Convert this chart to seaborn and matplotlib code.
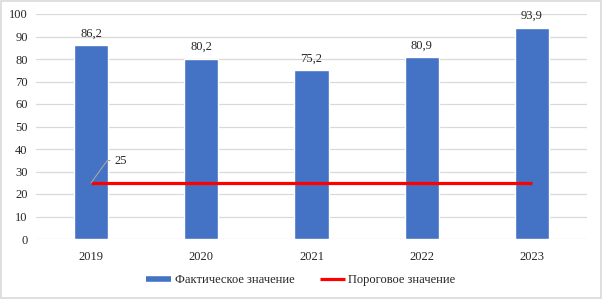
import matplotlib
matplotlib.use("Agg")
import matplotlib.pyplot as plt
import seaborn as sns
import pandas as pd
from matplotlib.lines import Line2D

years = ["2019", "2020", "2021", "2022", "2023"]
actual = [86.2, 80.2, 75.2, 80.9, 93.9]
threshold = [25, 25, 25, 25, 25]
series_names = ["Фактическое значение", "Пороговое значение"]
yticks = [0, 10, 20, 30, 40, 50, 60, 70, 80, 90, 100]

sns.set_theme(style="white")
plt.rcParams['font.family'] = ['Liberation Serif', 'DejaVu Serif']

bar_color = "#4472C4"
line_color = "#FF0000"
grid_color = "#D9D9D9"
text_color = "#262626"

df = pd.DataFrame({"year": years, "value": actual})

fig = plt.figure(figsize=(6.02, 2.99), dpi=100)
ax = fig.add_axes([36/602, 60/299, 551/602, 225/299])

sns.barplot(data=df, x="year", y="value", color=bar_color, width=0.31,
            saturation=1, ax=ax, zorder=2)
ax.plot(range(len(years)), threshold, color=line_color, lw=2.3, zorder=3,
        solid_capstyle="butt")

ax.set_ylim(0, 100)
ax.set_xlim(-0.5, len(years) - 0.5)
ax.set_yticks(yticks)
ax.set_yticklabels([str(t) for t in yticks], fontsize=9, color=text_color)
ax.set_xticklabels(years, fontsize=9, color=text_color)
ax.tick_params(axis="x", length=0, pad=9)
ax.tick_params(axis="y", length=0, pad=6)
ax.set_xlabel("")
ax.set_ylabel("")
ax.grid(axis="y", color=grid_color, lw=0.9, zorder=0)
ax.set_axisbelow(True)
for s in ax.spines.values():
    s.set_visible(False)

for i, v in enumerate(actual):
    ax.annotate(f"{v:.1f}".replace(".", ","), (i, v), xytext=(0, 4),
                textcoords="offset points", ha="center", va="bottom",
                fontsize=9, color=text_color)

ax.annotate(str(threshold[0]), (0, threshold[0]), xytext=(17, 16),
            textcoords="offset points", ha="left", va="center",
            fontsize=9, color=text_color,
            arrowprops=dict(arrowstyle="-", color="#A6A6A6", lw=0.8,
                            shrinkA=1, shrinkB=0, relpos=(0, 0.5),
                            connectionstyle="angle,angleA=0,angleB=54,rad=0"))

handles = [Line2D([0], [0], color=bar_color, lw=4.0, solid_capstyle="butt"),
           Line2D([0], [0], color=line_color, lw=2.3, solid_capstyle="butt")]
fig.legend(handles, series_names, loc="center", bbox_to_anchor=(0.5, 19/299),
           ncol=2, frameon=False, fontsize=9, handlelength=2.0,
           handletextpad=0.3, columnspacing=2.0, labelcolor=text_color)

fig.add_artist(plt.Rectangle((0.001, 0.003), 0.997, 0.994, transform=fig.transFigure,
                             fill=False, edgecolor=grid_color, lw=1.2))

fig.savefig("out.png", dpi=100)
